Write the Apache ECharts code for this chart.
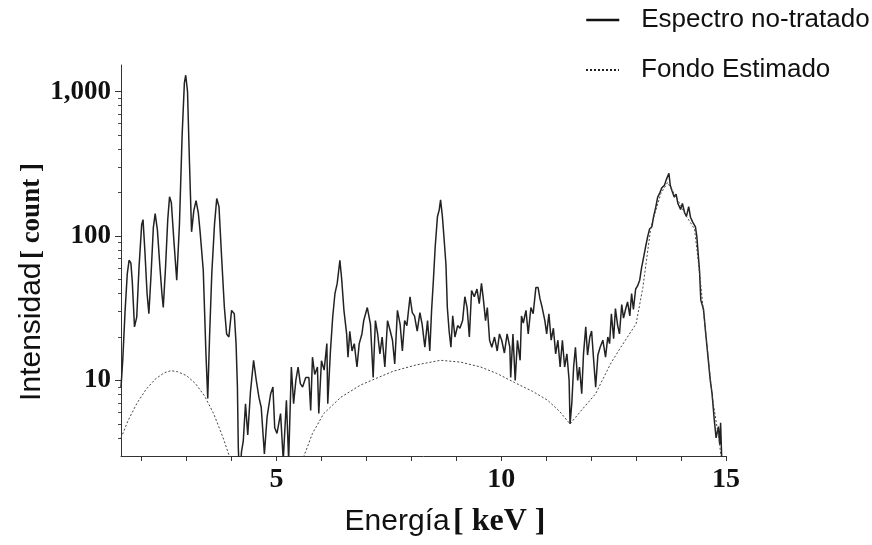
<!DOCTYPE html>
<html>
<head>
<meta charset="utf-8">
<script src="https://cdn.jsdelivr.net/npm/echarts@6/dist/echarts.min.js"></script>
<style>html,body{margin:0;padding:0;background:#fff}#c{width:872px;height:545px}</style>
</head>
<body>
<div id="c"></div>
<script>
// ---- Data ----
var specEnergy = [1.54,1.58,1.63,1.68,1.72,1.76,1.79,1.84,1.89,1.94,2.00,2.03,2.07,2.12,2.16,2.21,2.26,2.30,2.35,2.40,2.45,2.48,2.53,2.58,2.62,2.66,2.72,2.78,2.84,2.90,2.95,2.98,3.02,3.06,3.11,3.16,3.21,3.26,3.30,3.37,3.43,3.47,3.51,3.56,3.62,3.67,3.72,3.78,3.84,3.89,3.94,4.00,4.06,4.10,4.13,4.15,4.18,4.22,4.26,4.31,4.36,4.42,4.49,4.55,4.61,4.66,4.73,4.79,4.87,4.92,4.96,5.01,5.09,5.15,5.22,5.27,5.33,5.38,5.43,5.48,5.53,5.58,5.65,5.72,5.76,5.80,5.85,5.91,5.94,6.00,6.06,6.12,6.14,6.20,6.25,6.30,6.35,6.41,6.45,6.50,6.56,6.59,6.63,6.68,6.73,6.79,6.84,6.90,6.94,7.02,7.09,7.15,7.20,7.25,7.30,7.35,7.41,7.47,7.53,7.58,7.63,7.69,7.75,7.80,7.85,7.90,7.97,8.02,8.07,8.13,8.19,8.24,8.30,8.36,8.41,8.45,8.49,8.53,8.58,8.62,8.65,8.69,8.73,8.77,8.80,8.84,8.88,8.92,8.97,9.03,9.08,9.14,9.19,9.24,9.29,9.34,9.40,9.46,9.51,9.56,9.60,9.65,9.69,9.74,9.79,9.85,9.91,9.96,10.01,10.07,10.13,10.19,10.21,10.26,10.31,10.36,10.42,10.45,10.49,10.55,10.60,10.66,10.71,10.77,10.82,10.86,10.91,10.97,11.01,11.06,11.11,11.16,11.21,11.26,11.31,11.36,11.41,11.46,11.51,11.53,11.57,11.61,11.65,11.70,11.74,11.79,11.83,11.88,11.92,11.97,12.01,12.05,12.10,12.15,12.20,12.26,12.32,12.37,12.41,12.45,12.50,12.54,12.59,12.63,12.68,12.72,12.77,12.81,12.86,12.90,12.94,12.99,13.03,13.08,13.12,13.17,13.21,13.26,13.30,13.35,13.39,13.44,13.48,13.53,13.57,13.63,13.67,13.73,13.76,13.80,13.85,13.89,13.93,13.99,14.03,14.08,14.12,14.17,14.21,14.26,14.32,14.35,14.41,14.44,14.50,14.55,14.60,14.65,14.69,14.74,14.78,14.83,14.86,14.88,14.92];
var specCounts = [9,14,30,55,68,65,49,23.5,27.5,60,120,130,80,40,29,55,115,143,110,65,40,32,60,130,187,170,90,49.5,120,500,1150,1300,1000,350,107,150,176,145,107,58,15.3,7.5,20,55,120,182,160,70,32,21,20,30.6,29,18,9,3.4,2,3.2,3.8,6.9,4.2,8.3,13.8,10,7.6,6.5,3.1,5.6,8.1,9.0,4.7,4.3,5.9,2.8,7.3,2.8,12.4,6.9,10,12.4,9.5,9,10.5,10.5,6.2,14.5,11,12.4,5.9,13.7,11.8,18,6.9,16.1,27.5,40,47,68,50,30.6,21,14.5,21.9,16,18,12.4,18,21,26,32,24.5,10.5,26,21,15.3,20,12.4,26,22,19,13,30.6,24.5,16,26,24,38,29.5,28,22,29.5,24.5,17,26,16,30.6,49.5,84,136,152,178,137,94,63,32,22,17,28,20,24,23,26,38,32,20,42,38,43,34,47,37,26,32,19,17,20,16,21,19,15.5,21,17,10.5,21,10,19,13.8,28,25,30.6,21,32,29,44,44,37,32,26,21,29,19,23,15.3,19,12.4,19,12.4,15.3,10,5.0,7,12.4,17,10,12.4,8.1,15.3,23.5,15,20,22,14.6,9,15,17,19,14.5,20,18,29,19.5,31.5,24,21,33.5,27,31.5,35,28,40,31,43,45,49.5,60,72,84,100,112,116,137,160,186,200,215,225,245,272,225,205,186,195,168,153,168,145,137,160,135,125,116,100,58,36,31,21,14.5,10,8.1,5.3,4.0,4.8,3.6,5.1,2];
var bgEnergy = [1.54,1.70,1.90,2.10,2.30,2.50,2.65,2.80,3.00,3.20,3.40,3.60,3.80,3.95,4.02,4.80,5.55,5.61,5.80,6.05,6.43,6.87,7.17,7.60,8.10,8.65,9.10,9.54,9.90,10.29,10.70,11.03,11.30,11.53,11.80,12.10,12.21,12.44,12.66,13.00,13.15,13.33,13.55,13.70,13.90,14.10,14.30,14.40,14.55,14.70,14.85,14.95];
var bgCounts = [4.0,5.3,7.0,8.7,10.2,11.3,11.7,11.5,10.8,9.5,7.8,5.9,4.1,3.0,2.5,null,2.6,3.0,4.3,5.9,7.65,9.3,10.2,11.6,12.8,13.8,13.4,12.4,11.2,9.7,8.4,7.3,6.1,5.0,6.3,8.1,9.5,13.2,17,24.7,44,116,197,235,185,140,112,60,21,7.5,3.8,2];
var xTicks = [2,3,4,5,6,7,8,9,10,11,12,13,14,15];
var xLabels = [5,10,15];
var yMajor = [10,100,1000];
var yMinor = [4,5,6,7,8,9,20,30,40,50,60,70,80,90,200,300,400,500,600,700,800,900];
var seriesNames = ['Espectro no-tratado','Fondo Estimado'];

function zip(a,b){var out=[];for(var i=0;i<a.length;i++){out.push([a[i],b[i]]);}return out;}

var chart = echarts.init(document.getElementById('c'), null, {renderer:'canvas'});
var serif = '"Liberation Serif", "Times New Roman", serif';
var sans = '"Liberation Sans", Arial, sans-serif';
function legendCfg(name, top, lineStyle){
  return {
    left: 580, top: top, orient: 'horizontal',
    itemWidth: 33, itemHeight: 14,
    itemStyle: {opacity: 0},
    formatter: function(n){ return '{p|}{t|' + n + '}'; },
    textStyle: {rich: {p:{width:17}, t:{fontFamily: sans, fontSize: 26, color: '#111'}}},
    data: [{name: name, lineStyle: lineStyle, itemStyle: {opacity: 0}}]
  };
}
chart.setOption({
  animation: false,
  backgroundColor: '#fff',
  grid: {left:121, right:146, top:65, bottom:89, containLabel:false},
  legend: [
    legendCfg(seriesNames[0], 2, {width:2.5, color:'#111', type:'solid'}),
    legendCfg(seriesNames[1], 52, {width:2, color:'#222', type:'dotted'})
  ],
  xAxis: {
    type: 'value', min: 1.54, max: 15,
    axisLine: {show:true, onZero:false, lineStyle:{color:'#333', width:1}},
    axisTick: {show:true, length:5, inside:false, customValues: xTicks, lineStyle:{color:'#333'}},
    axisLabel: {customValues: xLabels, margin: 10, fontFamily: serif, fontWeight:'bold', fontSize: 28, color:'#111'},
    splitLine: {show:false}
  },
  yAxis: [{
    type: 'log', logBase: 10, min: 3, max: 1530,
    axisLine: {show:true, lineStyle:{color:'#333', width:1}},
    axisTick: {show:true, length:6, customValues: yMajor, lineStyle:{color:'#333'}},
    axisLabel: {customValues: yMajor, margin: 10, fontFamily: serif, fontWeight:'bold', fontSize: 27, color:'#111',
      formatter: function(v){ return Number(v).toLocaleString('en-US'); }},
    splitLine: {show:false}
  },{
    type: 'log', logBase: 10, min: 3, max: 1530, position:'left',
    axisLine: {show:false},
    axisTick: {show:true, length:3, customValues: yMinor, lineStyle:{color:'#444'}},
    axisLabel: {show:false},
    splitLine: {show:false}
  }],
  graphic: [
    {type:'text', x: 32, y: 282, rotation: Math.PI/2, style: {
      text: '{a|Intensidad} {b|[ count ]}', align:'center', verticalAlign:'middle',
      rich: {a:{fontFamily:sans, fontSize:30, fill:'#111'}, b:{fontFamily:serif, fontSize:27, fontWeight:'bold', fill:'#111'}}
    }},
    {type:'text', x: 445, y: 522, style: {
      text: '{a|Energía} {b|[ keV ]}', align:'center', verticalAlign:'middle',
      rich: {a:{fontFamily:sans, fontSize:30, fill:'#111'}, b:{fontFamily:serif, fontSize:32, fontWeight:'bold', fill:'#111'}}
    }}
  ],
  series: [
    {name: seriesNames[0], type:'line', data: zip(specEnergy, specCounts), symbol:'none', clip:true,
     lineStyle:{color:'#222', width:1.5}, itemStyle:{color:'#222'}},
    {name: seriesNames[1], type:'line', data: zip(bgEnergy, bgCounts), symbol:'none', clip:true, connectNulls:false,
     lineStyle:{color:'#444', width:1, type:[2,2]}, itemStyle:{color:'#444'}}
  ]
});
</script>
</body>
</html>
